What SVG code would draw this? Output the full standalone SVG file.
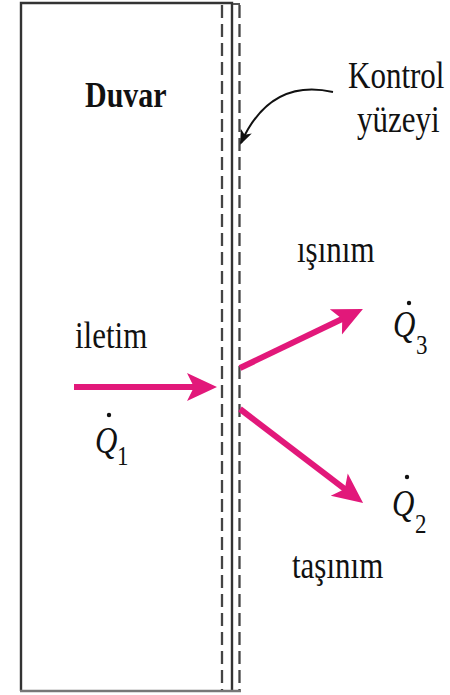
<svg xmlns="http://www.w3.org/2000/svg" width="450" height="695" viewBox="0 0 450 695">
<style>
.t{font-family:"Liberation Serif","Times New Roman",serif;fill:#111;}
.lbl{font-size:31px;}
.q{font-size:31px;font-style:italic;}
.sub{font-size:23px;}
.wall{fill:none;stroke:#333;stroke-width:2.4;}
.dash{fill:none;stroke:#444;stroke-width:2.3;stroke-dasharray:13 6;}
.flow{fill:none;stroke:#e2187a;stroke-width:6;marker-end:url(#ph);}
.dot{fill:#111;}
</style>
<defs>
<marker id="ph" markerUnits="userSpaceOnUse" markerWidth="32" markerHeight="30" refX="8" refY="15" orient="auto" overflow="visible">
<path d="M0,1 L30,15 L0,29 L7,15 Z" fill="#e2187a"/>
</marker>
<marker id="bh" markerUnits="userSpaceOnUse" markerWidth="16" markerHeight="14" refX="13" refY="6" orient="auto" overflow="visible">
<path d="M0,0 L15,6 L0,12 L4,6 Z" fill="#111"/>
</marker>
</defs>
<g id="wall">
<path class="wall" d="M21,691 L21,3 L232,3 L232,691"/>
<line x1="20" y1="691" x2="241" y2="691" stroke="#777" stroke-width="2.4"/>
<line class="dash" x1="222" y1="5" x2="222" y2="690"/>
<line class="dash" x1="239.5" y1="5" x2="239.5" y2="690"/>
<line x1="233" y1="4" x2="240" y2="4" stroke="#555" stroke-width="2"/>
<text class="t" font-size="30" font-weight="bold" transform="translate(85,107) scale(1,1.2)">Duvar</text>
</g>
<g id="control-surface-label">
<text class="t lbl" transform="translate(348,88) scale(1,1.2)">Kontrol</text>
<text class="t lbl" transform="translate(357,132) scale(1,1.2)">yüzeyi</text>
</g>
<g id="q1">
<text class="t lbl" transform="translate(75,348) scale(1,1.2)">iletim</text>
<text class="t q" transform="translate(95,453) scale(1,1.2)">Q</text>
<text class="t sub" transform="translate(117,465) scale(1,1.2)">1</text>
<circle class="dot" cx="109" cy="415" r="2.2"/>
</g>
<g id="q3">
<text class="t lbl" transform="translate(297,262) scale(1,1.2)">ışınım</text>
<text class="t q" transform="translate(393,337) scale(1,1.2)">Q</text>
<text class="t sub" transform="translate(416,354) scale(1,1.2)">3</text>
<circle class="dot" cx="409" cy="303" r="2.2"/>
</g>
<g id="q2">
<text class="t q" transform="translate(392,516) scale(1,1.2)">Q</text>
<text class="t sub" transform="translate(415,533) scale(1,1.2)">2</text>
<circle class="dot" cx="407" cy="477" r="2.2"/>
<text class="t lbl" transform="translate(292,578) scale(1,1.2)">taşınım</text>
</g>
<g id="connectors">
<line class="flow" x1="74" y1="387" x2="195" y2="387"/>
<line class="flow" x1="240" y1="368" x2="343.1" y2="318.5"/>
<line class="flow" x1="240" y1="409" x2="345.6" y2="489.6"/>
<path d="M333,92 Q270,78 241,143" fill="none" stroke="#111" stroke-width="2" marker-end="url(#bh)"/>
</g>
</svg>
